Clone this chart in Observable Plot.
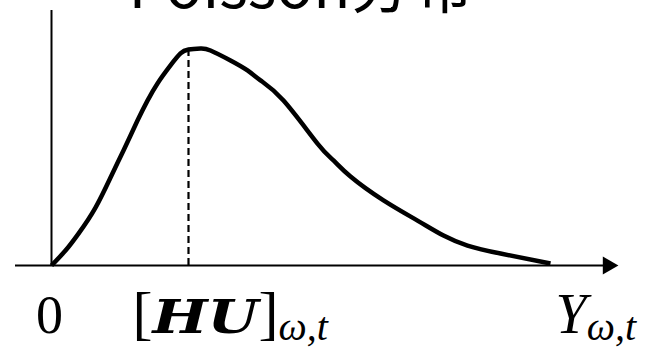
<!DOCTYPE html>
<html>
<head>
<meta charset="utf-8">
<script src="https://cdn.jsdelivr.net/npm/d3@7"></script>
<script src="https://cdn.jsdelivr.net/npm/@observablehq/plot@0.6"></script>
<style>
  html, body { margin: 0; padding: 0; background: #fff; overflow: hidden; }
  svg { display: block; }
</style>
</head>
<body>
<div id="chart"></div>
<script>
// Density curve sketch of a Poisson-like distribution (unit: x in arbitrary counts, y normalised to peak = 1)
const curveX = [0, 0.28, 0.54, 0.88, 1.20, 1.44, 1.72, 1.92, 2.12, 2.38, 2.58, 2.74, 2.98, 3.18, 3.58, 3.92, 4.18, 4.64, 5.32, 5.64, 5.98, 6.64, 7.32, 7.84, 8.32, 8.98, 9.98];
const curveY = [0, 0.069, 0.147, 0.267, 0.415, 0.530, 0.668, 0.760, 0.839, 0.922, 0.977, 0.995, 1.0, 0.991, 0.945, 0.899, 0.853, 0.760, 0.562, 0.484, 0.410, 0.300, 0.207, 0.138, 0.092, 0.055, 0.009];

// Mode of the distribution, marked with a dashed drop line
const modeX = 2.74;
const modeY = 0.991;

// Axis extents
const axisXStart = -0.72;
const axisXEnd = 11.13;
const axisYTop = 1.175;

// Axis labels: main symbol and subscript
const tickNames = ["0", "[HU]", "Y"];
const tickSubs = ["", "ω,t", "ω,t"];
const tickAt = [-0.04, 1.62, 10.08];

const title = "Poisson分布";

const curve = curveX.map((x, i) => ({x, y: curveY[i]}));
const labelY = -0.31;

const chart = Plot.plot({
  width: 669,
  height: 350,
  margin: 0,
  style: {background: "white", overflow: "visible"},
  x: {domain: [0, 10], range: [51, 551], axis: null},
  y: {domain: [0, 1], range: [265, 48], axis: null},
  marks: [
    Plot.ruleY([0], {x1: axisXStart, x2: axisXEnd, stroke: "black", strokeWidth: 2}),
    Plot.ruleX([0], {y1: 0, y2: axisYTop, stroke: "black", strokeWidth: 2}),
    Plot.dot([axisXEnd], {x: d => d, y: 0, symbol: "triangle", rotate: 90, r: 6.7, fill: "black", stroke: null}),
    Plot.ruleX([modeX], {y1: 0, y2: modeY, stroke: "black", strokeWidth: 2.2, strokeDasharray: "7,4"}),
    Plot.line(curve, {x: "x", y: "y", curve: "natural", stroke: "black", strokeWidth: 4.5, strokeLinejoin: "round", strokeLinecap: "butt"}),
    Plot.text(tickNames.slice(0, 1), {
      x: (d, i) => tickAt[i], y: labelY, text: d => d, textAnchor: "middle", lineAnchor: "bottom",
      fontSize: 54, fontFamily: "Liberation Serif", fill: "black"
    }),
    Plot.text(tickNames.slice(1), {
      x: (d, i) => tickAt[i + 1], y: labelY, text: d => d, textAnchor: "start", lineAnchor: "bottom",
      fontSize: 56, fontFamily: "Liberation Serif", fill: "black"
    }),
    Plot.text([title], {
      frameAnchor: "top-left", dx: 128, dy: 7, text: d => d, textAnchor: "start", lineAnchor: "bottom",
      fontSize: 61, fontFamily: "Noto Sans CJK SC", fill: "black"
    })
  ]
});

// Typeset the math labels: bold-italic vectors, italic variables and subscripts
d3.select(chart).selectAll("text").each(function() {
  const el = d3.select(this);
  const name = el.text();
  const i = tickNames.indexOf(name);
  if (i < 0) return;
  el.selectAll("*").remove();
  el.text(null);
  if (name.startsWith("[")) {
    el.append("tspan").attr("font-size", 60).text("[");
    el.append("tspan")
      .attr("font-weight", "bold").attr("font-style", "italic")
      .attr("font-family", "DejaVu Serif").attr("font-size", 47)
      .attr("textLength", 106).attr("lengthAdjust", "spacingAndGlyphs")
      .text(name.slice(1, -1));
    el.append("tspan").attr("font-size", 60).text("]");
  } else if (/[A-Za-z]/.test(name)) {
    el.append("tspan").attr("font-style", "italic").text(name);
  } else {
    el.append("tspan").text(name);
  }
  if (tickSubs[i]) {
    el.append("tspan").attr("font-style", "italic").attr("font-size", 40).attr("dy", 7).text(tickSubs[i]);
  }
});

document.getElementById("chart").appendChild(chart);
</script>
</body>
</html>
